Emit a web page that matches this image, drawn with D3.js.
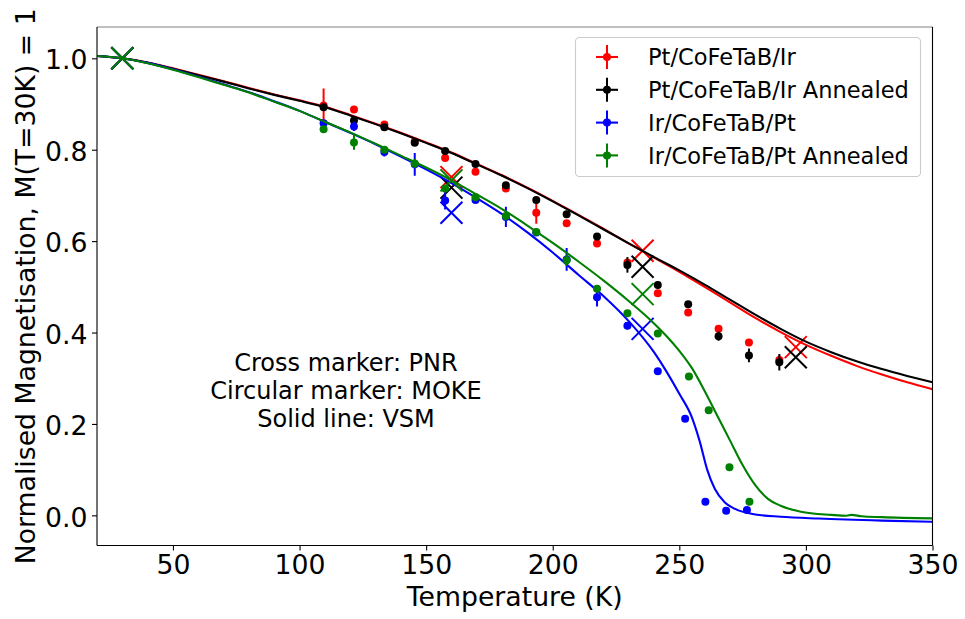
<!DOCTYPE html>
<html>
<head>
<meta charset="utf-8">
<script src="https://cdn.jsdelivr.net/npm/d3@7"></script>
<style>
  body { margin: 0; background: #ffffff; }
  svg { display: block; font-family: "DejaVu Sans", sans-serif; }
</style>
</head>
<body>
<svg id="chart" width="965" height="619"></svg>
<script>
// ---- Sample names and colours ----
const sampleNames = ["Pt/CoFeTaB/Ir", "Pt/CoFeTaB/Ir Annealed", "Ir/CoFeTaB/Pt", "Ir/CoFeTaB/Pt Annealed"];
const sampleColors = ["#ff0000", "#000000", "#0000ff", "#008000"];

// ---- VSM curves (solid lines): temperature (K) and normalised magnetisation ----
const vsmRedT   = [20, 30, 40, 50, 60, 70, 80, 90, 100, 110, 120, 130, 140, 150, 160, 170, 180, 190, 200, 210, 220, 230, 240, 250, 260, 270, 280, 290, 300, 310, 320, 330, 340, 350];
const vsmRedM   = [1.005, 1.0, 0.991, 0.978, 0.964, 0.950, 0.935, 0.921, 0.908, 0.894, 0.876, 0.857, 0.837, 0.816, 0.794, 0.769, 0.744, 0.717, 0.688, 0.658, 0.627, 0.595, 0.564, 0.533, 0.500, 0.466, 0.432, 0.401, 0.373, 0.349, 0.327, 0.308, 0.291, 0.276];
const vsmBlackT = [20, 30, 40, 50, 60, 70, 80, 90, 100, 110, 120, 130, 140, 150, 160, 170, 180, 190, 200, 210, 220, 230, 240, 250, 260, 270, 280, 290, 300, 310, 320, 330, 340, 350];
const vsmBlackM = [1.005, 1.0, 0.990, 0.977, 0.963, 0.949, 0.934, 0.920, 0.907, 0.893, 0.875, 0.856, 0.836, 0.815, 0.793, 0.768, 0.743, 0.716, 0.687, 0.657, 0.626, 0.595, 0.565, 0.536, 0.505, 0.472, 0.439, 0.408, 0.380, 0.357, 0.337, 0.320, 0.305, 0.291];
const vsmBlueT  = [20, 30, 40, 50, 60, 70, 80, 90, 100, 110, 120, 130, 140, 150, 160, 170, 180, 190, 200, 210, 220, 230, 240, 245, 250, 255, 258, 261, 264, 268, 272, 280, 290, 305, 330, 350];
const vsmBlueM  = [1.005, 1.0, 0.990, 0.976, 0.960, 0.943, 0.926, 0.906, 0.885, 0.861, 0.837, 0.812, 0.785, 0.757, 0.727, 0.694, 0.659, 0.619, 0.575, 0.527, 0.480, 0.425, 0.357, 0.314, 0.266, 0.214, 0.163, 0.100, 0.058, 0.028, 0.014, 0.002, -0.003, -0.007, -0.0115, -0.014];
const vsmGreenT = [20, 30, 40, 50, 60, 70, 80, 90, 100, 110, 120, 130, 140, 150, 160, 170, 180, 190, 200, 210, 220, 230, 240, 245, 250, 255, 260, 265, 270, 275, 280, 285, 290, 298, 310, 316, 318, 322, 330, 350];
const vsmGreenM = [1.005, 1.0, 0.989, 0.975, 0.959, 0.942, 0.925, 0.905, 0.885, 0.861, 0.838, 0.813, 0.787, 0.761, 0.733, 0.702, 0.670, 0.634, 0.596, 0.556, 0.514, 0.469, 0.420, 0.392, 0.360, 0.322, 0.272, 0.218, 0.164, 0.110, 0.066, 0.036, 0.021, 0.008, 0.001, -0.001, 0.001, -0.002, -0.004, -0.0066];

// ---- MOKE points (circular markers with error bars) ----
const mokeRedT   = [109.5, 121.5, 133.5, 145.5, 157.5, 169.5, 181.5, 193.5, 205.5, 217.5, 229.5, 241.5, 253.5, 265.5, 277.5, 289.5];
const mokeRedM   = [0.897, 0.888, 0.855, 0.818, 0.782, 0.752, 0.715, 0.662, 0.639, 0.595, 0.553, 0.486, 0.444, 0.408, 0.378, 0.340];
const mokeRedE   = [0.037, 0.005, 0.005, 0.005, 0.006, 0.005, 0.005, 0.024, 0.006, 0.005, 0.008, 0.006, 0.006, 0.005, 0.005, 0.010];
const mokeBlackT = [109.5, 121.5, 133.5, 145.5, 157.5, 169.5, 181.5, 193.5, 205.5, 217.5, 229.5, 241.5, 253.5, 265.5, 277.5, 289.5];
const mokeBlackM = [0.893, 0.864, 0.849, 0.815, 0.797, 0.769, 0.722, 0.690, 0.659, 0.610, 0.548, 0.504, 0.462, 0.392, 0.350, 0.335];
const mokeBlackE = [0.006, 0.005, 0.005, 0.006, 0.005, 0.005, 0.005, 0.005, 0.005, 0.006, 0.017, 0.008, 0.006, 0.010, 0.015, 0.018];
const mokeBlueT  = [109.5, 121.5, 133.5, 145.5, 157.5, 169.5, 181.5, 193.5, 205.5, 217.5, 229.5, 241.5, 252.3, 260.3, 268.5, 276.7];
const mokeBlueM  = [0.858, 0.851, 0.795, 0.768, 0.689, 0.690, 0.653, 0.619, 0.560, 0.477, 0.415, 0.315, 0.2115, 0.030, 0.010, 0.0116];
const mokeBlueE  = [0.005, 0.010, 0.010, 0.025, 0.020, 0.005, 0.022, 0.006, 0.025, 0.020, 0.008, 0.005, 0.005, 0.005, 0.005, 0.005];
const mokeGreenT = [109.5, 121.5, 133.5, 145.5, 157.5, 169.5, 181.5, 193.5, 205.5, 217.5, 229.5, 241.5, 253.8, 261.6, 269.8, 277.7];
const mokeGreenM = [0.845, 0.816, 0.800, 0.770, 0.715, 0.696, 0.655, 0.620, 0.558, 0.496, 0.442, 0.398, 0.304, 0.230, 0.105, 0.030];
const mokeGreenE = [0.005, 0.016, 0.006, 0.010, 0.008, 0.005, 0.010, 0.006, 0.012, 0.008, 0.006, 0.005, 0.005, 0.005, 0.005, 0.005];

// ---- PNR points (cross markers) ----
const pnrRedT   = [30, 160, 235.5, 296];
const pnrRedM   = [1.0, 0.740, 0.579, 0.368];
const pnrBlackT = [30, 160, 235.5, 296];
const pnrBlackM = [1.0, 0.717, 0.544, 0.346];
const pnrBlueT  = [30, 160, 235.5];
const pnrBlueM  = [1.0, 0.662, 0.408];
const pnrGreenT = [30, 160, 235.5];
const pnrGreenM = [1.0, 0.733, 0.484];

// ---- Axis ticks and labels ----
const xTicks = [50, 100, 150, 200, 250, 300, 350];
const yTicks = [0.0, 0.2, 0.4, 0.6, 0.8, 1.0];
const xLabel = "Temperature (K)";
const yLabel = "Normalised Magnetisation, M(T=30K) = 1";
const noteLines = ["Cross marker: PNR", "Circular marker: MOKE", "Solid line: VSM"];

const zip = (a, b, c) => a.map((t, i) => ({ t, m: b[i], e: c ? c[i] : 0 }));
const samples = [
  { vsm: zip(vsmRedT, vsmRedM),     moke: zip(mokeRedT, mokeRedM, mokeRedE),       pnr: zip(pnrRedT, pnrRedM) },
  { vsm: zip(vsmBlackT, vsmBlackM), moke: zip(mokeBlackT, mokeBlackM, mokeBlackE), pnr: zip(pnrBlackT, pnrBlackM) },
  { vsm: zip(vsmBlueT, vsmBlueM),   moke: zip(mokeBlueT, mokeBlueM, mokeBlueE),    pnr: zip(pnrBlueT, pnrBlueM) },
  { vsm: zip(vsmGreenT, vsmGreenM), moke: zip(mokeGreenT, mokeGreenM, mokeGreenE), pnr: zip(pnrGreenT, pnrGreenM) }
];
samples.forEach((s, i) => { s.name = sampleNames[i]; s.color = sampleColors[i]; });

// ---- Layout ----
const plot = { left: 97, right: 932.5, top: 27, bottom: 545.5 };
const svg = d3.select("#chart");

const x = d3.scaleLinear().domain([20, 350]).range([plot.left, plot.right]);
const y = d3.scaleLinear().domain([-0.066, 1.0685]).range([plot.bottom, plot.top]);

svg.append("defs").append("clipPath").attr("id", "plot-clip")
  .append("rect")
  .attr("x", plot.left).attr("y", plot.top)
  .attr("width", plot.right - plot.left).attr("height", plot.bottom - plot.top);

const body = svg.append("g").attr("clip-path", "url(#plot-clip)");

const line = d3.line()
  .x(d => x(d.t))
  .y(d => y(d.m))
  .curve(d3.curveMonotoneX);

const crossPath = "M-11,-11L11,11M-11,11L11,-11";

samples.forEach(s => {
  const g = body.append("g");
  // VSM curve
  g.append("path")
    .datum(s.vsm)
    .attr("fill", "none")
    .attr("stroke", s.color)
    .attr("stroke-width", 2.1)
    .attr("d", line);
  // MOKE error bars and dots
  g.selectAll("line.err").data(s.moke).join("line")
    .attr("class", "err")
    .attr("x1", d => x(d.t)).attr("x2", d => x(d.t))
    .attr("y1", d => y(d.m - d.e)).attr("y2", d => y(d.m + d.e))
    .attr("stroke", s.color).attr("stroke-width", 2);
  g.selectAll("circle").data(s.moke).join("circle")
    .attr("cx", d => x(d.t)).attr("cy", d => y(d.m))
    .attr("r", 4)
    .attr("fill", s.color);
  // PNR crosses
  g.selectAll("path.pnr").data(s.pnr).join("path")
    .attr("class", "pnr")
    .attr("transform", d => `translate(${x(d.t)},${y(d.m)})`)
    .attr("d", crossPath)
    .attr("fill", "none")
    .attr("stroke", s.color)
    .attr("stroke-width", 2);
});

// ---- Axes ----
const fontTick = 26.7;
const xAxis = svg.append("g")
  .attr("transform", `translate(0,${plot.bottom})`)
  .call(d3.axisBottom(x).tickValues(xTicks).tickSize(5).tickPadding(4.5).tickFormat(d3.format("d")));
const yAxis = svg.append("g")
  .attr("transform", `translate(${plot.left},0)`)
  .call(d3.axisLeft(y).tickValues(yTicks).tickSize(5).tickPadding(4.5).tickFormat(d3.format(".1f")));

[xAxis, yAxis].forEach(a => {
  a.select(".domain").remove();
  a.selectAll(".tick line").attr("stroke", "#000").attr("stroke-width", 1.1);
  a.selectAll(".tick text")
    .attr("fill", "#000")
    .style("font-family", "'DejaVu Sans', sans-serif")
    .style("font-size", fontTick + "px");
});
yAxis.selectAll(".tick text").attr("dy", "0.40em");

// Frame
svg.append("line").attr("x1", plot.left).attr("x2", plot.right).attr("y1", plot.top).attr("y2", plot.top)
  .attr("stroke", "#808080").attr("stroke-width", 1.1);
svg.append("line").attr("x1", plot.left).attr("x2", plot.right).attr("y1", plot.bottom).attr("y2", plot.bottom)
  .attr("stroke", "#000").attr("stroke-width", 1.1);
svg.append("line").attr("x1", plot.left).attr("x2", plot.left).attr("y1", plot.top).attr("y2", plot.bottom)
  .attr("stroke", "#000").attr("stroke-width", 1.1);
svg.append("line").attr("x1", plot.right).attr("x2", plot.right).attr("y1", plot.top).attr("y2", plot.bottom)
  .attr("stroke", "#000").attr("stroke-width", 1.1);

// Axis titles
svg.append("text")
  .attr("x", (plot.left + plot.right) / 2)
  .attr("y", 606)
  .attr("text-anchor", "middle")
  .style("font-size", fontTick + "px")
  .text(xLabel);
svg.append("text")
  .attr("transform", `translate(35,${(plot.top + plot.bottom) / 2}) rotate(-90)`)
  .attr("text-anchor", "middle")
  .style("font-size", fontTick + "px")
  .text(yLabel);

// Method note
const note = svg.append("text")
  .attr("text-anchor", "middle")
  .style("font-size", "24px");
noteLines.forEach((t, i) => {
  note.append("tspan")
    .attr("x", 346)
    .attr("y", 371 + i * 27.8)
    .text(t);
});

// ---- Legend ----
const legend = svg.append("g");
legend.append("rect")
  .attr("x", 575.5).attr("y", 37.5)
  .attr("width", 345).attr("height", 139)
  .attr("rx", 4).attr("ry", 4)
  .attr("fill", "#ffffff").attr("fill-opacity", 0.8)
  .attr("stroke", "#cccccc").attr("stroke-width", 1.1);

samples.forEach((s, i) => {
  const cy = 57 + i * 32.8;
  const g = legend.append("g");
  g.append("line").attr("x1", 596).attr("x2", 618).attr("y1", cy).attr("y2", cy)
    .attr("stroke", s.color).attr("stroke-width", 2.1);
  g.append("line").attr("x1", 607).attr("x2", 607).attr("y1", cy - 12).attr("y2", cy + 12)
    .attr("stroke", s.color).attr("stroke-width", 2);
  g.append("circle").attr("cx", 607).attr("cy", cy).attr("r", 4).attr("fill", s.color);
  g.append("text")
    .attr("x", 648)
    .attr("y", cy + 8.2)
    .style("font-size", "22.5px")
    .text(s.name);
});
</script>
</body>
</html>
